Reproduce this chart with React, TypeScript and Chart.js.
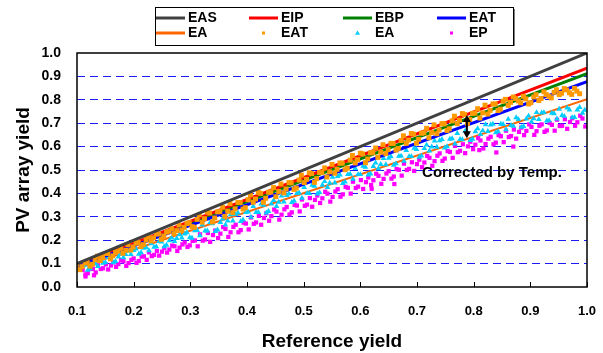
import { useEffect, useRef } from 'react';
import { Chart, registerables } from 'chart.js';

Chart.register(...registerables);

// ---- data ----
const lineX = [0.1, 1.0];
const easLine = [0.1, 1.0];
const eipLine = [0.094, 0.935];
const ebpLine = [0.091, 0.912];
const eatLine = [0.088, 0.878];
const eaLine = [0.08, 0.803];

const xTicks = [0.1, 0.2, 0.3, 0.4, 0.5, 0.6, 0.7, 0.8, 0.9, 1.0];
const yTicks = [0.0, 0.1, 0.2, 0.3, 0.4, 0.5, 0.6, 0.7, 0.8, 0.9, 1.0];

const eatMeasured: [number, number][] = [
  [0.100, 0.097], [0.109, 0.087], [0.118, 0.106], [0.127, 0.097], [0.136, 0.132], [0.145, 0.126],
  [0.154, 0.143], [0.163, 0.133], [0.172, 0.154], [0.181, 0.144], [0.190, 0.181], [0.199, 0.171],
  [0.208, 0.190], [0.217, 0.181], [0.226, 0.216], [0.235, 0.210], [0.244, 0.227], [0.253, 0.218],
  [0.262, 0.238], [0.271, 0.228], [0.280, 0.265], [0.289, 0.255], [0.298, 0.275], [0.307, 0.255],
  [0.316, 0.309], [0.325, 0.292], [0.334, 0.316], [0.343, 0.295], [0.352, 0.322], [0.361, 0.302],
  [0.370, 0.356], [0.379, 0.334], [0.388, 0.361], [0.397, 0.339], [0.406, 0.394], [0.415, 0.376],
  [0.424, 0.400], [0.433, 0.379], [0.442, 0.406], [0.451, 0.386], [0.460, 0.440], [0.469, 0.419],
  [0.478, 0.445], [0.487, 0.423], [0.496, 0.478], [0.505, 0.460], [0.514, 0.485], [0.523, 0.463],
  [0.532, 0.490], [0.541, 0.470], [0.550, 0.524], [0.559, 0.503], [0.568, 0.529], [0.577, 0.508],
  [0.586, 0.562], [0.595, 0.544], [0.604, 0.569], [0.613, 0.547], [0.622, 0.575], [0.631, 0.554],
  [0.640, 0.608], [0.649, 0.587], [0.658, 0.613], [0.667, 0.592], [0.676, 0.646], [0.685, 0.628],
  [0.694, 0.653], [0.703, 0.631], [0.712, 0.659], [0.721, 0.638], [0.730, 0.693], [0.739, 0.671],
  [0.748, 0.697], [0.757, 0.676], [0.766, 0.730], [0.775, 0.713], [0.784, 0.737], [0.793, 0.716],
  [0.802, 0.743], [0.811, 0.722], [0.820, 0.777], [0.829, 0.755], [0.838, 0.782], [0.847, 0.760],
  [0.856, 0.802], [0.865, 0.789], [0.874, 0.805], [0.883, 0.787], [0.892, 0.804], [0.901, 0.788],
  [0.910, 0.822], [0.919, 0.806], [0.928, 0.822], [0.937, 0.808], [0.946, 0.843], [0.955, 0.828],
  [0.964, 0.842], [0.973, 0.823], [0.982, 0.837],
  [0.105, 0.074], [0.114, 0.103], [0.123, 0.089], [0.132, 0.117], [0.141, 0.113], [0.150, 0.143],
  [0.159, 0.120], [0.168, 0.149], [0.177, 0.165], [0.186, 0.157], [0.195, 0.158], [0.204, 0.187],
  [0.213, 0.173], [0.222, 0.201], [0.231, 0.197], [0.240, 0.227], [0.249, 0.204], [0.258, 0.234],
  [0.267, 0.249], [0.276, 0.241], [0.285, 0.242], [0.294, 0.271], [0.303, 0.258], [0.312, 0.289],
  [0.321, 0.277], [0.330, 0.320], [0.339, 0.278], [0.348, 0.321], [0.357, 0.341], [0.366, 0.324],
  [0.375, 0.318], [0.384, 0.361], [0.393, 0.333], [0.402, 0.373], [0.411, 0.362], [0.420, 0.404],
  [0.429, 0.362], [0.438, 0.405], [0.447, 0.425], [0.456, 0.408], [0.465, 0.402], [0.474, 0.446],
  [0.483, 0.417], [0.492, 0.457], [0.501, 0.446], [0.510, 0.488], [0.519, 0.447], [0.528, 0.489],
  [0.537, 0.509], [0.546, 0.492], [0.555, 0.486], [0.564, 0.530], [0.573, 0.501], [0.582, 0.542],
  [0.591, 0.530], [0.600, 0.572], [0.609, 0.531], [0.618, 0.573], [0.627, 0.594], [0.636, 0.576],
  [0.645, 0.570], [0.654, 0.614], [0.663, 0.585], [0.672, 0.626], [0.681, 0.614], [0.690, 0.656],
  [0.699, 0.615], [0.708, 0.657], [0.717, 0.678], [0.726, 0.660], [0.735, 0.655], [0.744, 0.698],
  [0.753, 0.669], [0.762, 0.710], [0.771, 0.698], [0.780, 0.741], [0.789, 0.699], [0.798, 0.742],
  [0.807, 0.762], [0.816, 0.744], [0.825, 0.739], [0.834, 0.782], [0.843, 0.754], [0.852, 0.794],
  [0.861, 0.776], [0.870, 0.812], [0.879, 0.795], [0.888, 0.815], [0.897, 0.782], [0.906, 0.812],
  [0.915, 0.797], [0.924, 0.834], [0.933, 0.815], [0.942, 0.832], [0.951, 0.822], [0.960, 0.848],
  [0.969, 0.830], [0.978, 0.849], [0.987, 0.826],
];

const eaMeasured: [number, number][] = [
  [0.105, 0.073], [0.114, 0.094], [0.123, 0.079], [0.132, 0.101], [0.141, 0.118], [0.150, 0.105],
  [0.159, 0.124], [0.168, 0.110], [0.177, 0.141], [0.186, 0.139], [0.195, 0.140], [0.204, 0.163],
  [0.213, 0.147], [0.222, 0.169], [0.231, 0.186], [0.240, 0.173], [0.249, 0.193], [0.258, 0.179],
  [0.267, 0.210], [0.276, 0.208], [0.285, 0.210], [0.294, 0.233], [0.303, 0.209], [0.312, 0.242],
  [0.321, 0.266], [0.330, 0.240], [0.339, 0.271], [0.348, 0.244], [0.357, 0.291], [0.366, 0.283],
  [0.375, 0.283], [0.384, 0.317], [0.393, 0.287], [0.402, 0.321], [0.411, 0.345], [0.420, 0.319],
  [0.429, 0.350], [0.438, 0.323], [0.447, 0.370], [0.456, 0.363], [0.465, 0.364], [0.474, 0.398],
  [0.483, 0.368], [0.492, 0.402], [0.501, 0.426], [0.510, 0.400], [0.519, 0.431], [0.528, 0.404],
  [0.537, 0.451], [0.546, 0.444], [0.555, 0.445], [0.564, 0.479], [0.573, 0.449], [0.582, 0.483],
  [0.591, 0.507], [0.600, 0.481], [0.609, 0.512], [0.618, 0.484], [0.627, 0.531], [0.636, 0.524],
  [0.645, 0.523], [0.654, 0.557], [0.663, 0.527], [0.672, 0.560], [0.681, 0.584], [0.690, 0.558],
  [0.699, 0.588], [0.708, 0.560], [0.717, 0.607], [0.726, 0.599], [0.735, 0.598], [0.744, 0.631],
  [0.753, 0.600], [0.762, 0.634], [0.771, 0.657], [0.780, 0.630], [0.789, 0.660], [0.798, 0.632],
  [0.807, 0.677], [0.816, 0.668], [0.825, 0.665], [0.834, 0.696], [0.843, 0.664], [0.852, 0.695],
  [0.861, 0.717], [0.870, 0.688], [0.879, 0.716], [0.888, 0.687], [0.897, 0.731], [0.906, 0.720],
  [0.915, 0.716], [0.924, 0.746], [0.933, 0.711], [0.942, 0.741], [0.951, 0.760], [0.960, 0.730],
  [0.969, 0.757], [0.978, 0.725], [0.987, 0.768], [0.996, 0.756],
  [0.110, 0.090], [0.119, 0.072], [0.128, 0.098], [0.137, 0.088], [0.146, 0.102], [0.155, 0.127],
  [0.164, 0.104], [0.173, 0.129], [0.182, 0.126], [0.191, 0.155], [0.200, 0.157], [0.209, 0.141],
  [0.218, 0.166], [0.227, 0.156], [0.236, 0.170], [0.245, 0.195], [0.254, 0.173], [0.263, 0.198],
  [0.272, 0.195], [0.281, 0.224], [0.290, 0.227], [0.299, 0.211], [0.308, 0.241], [0.317, 0.220],
  [0.326, 0.240], [0.335, 0.276], [0.344, 0.238], [0.353, 0.276], [0.362, 0.266], [0.371, 0.309],
  [0.380, 0.311], [0.389, 0.281], [0.398, 0.319], [0.407, 0.299], [0.416, 0.319], [0.425, 0.355],
  [0.434, 0.317], [0.443, 0.355], [0.452, 0.345], [0.461, 0.389], [0.470, 0.392], [0.479, 0.362],
  [0.488, 0.400], [0.497, 0.380], [0.506, 0.400], [0.515, 0.436], [0.524, 0.398], [0.533, 0.436],
  [0.542, 0.426], [0.551, 0.470], [0.560, 0.473], [0.569, 0.443], [0.578, 0.481], [0.587, 0.461],
  [0.596, 0.481], [0.605, 0.517], [0.614, 0.479], [0.623, 0.516], [0.632, 0.506], [0.641, 0.550],
  [0.650, 0.551], [0.659, 0.521], [0.668, 0.559], [0.677, 0.538], [0.686, 0.558], [0.695, 0.594],
  [0.704, 0.555], [0.713, 0.592], [0.722, 0.582], [0.731, 0.625], [0.740, 0.626], [0.749, 0.595],
  [0.758, 0.632], [0.767, 0.612], [0.776, 0.631], [0.785, 0.666], [0.794, 0.627], [0.803, 0.664],
  [0.812, 0.652], [0.821, 0.694], [0.830, 0.693], [0.839, 0.660], [0.848, 0.696], [0.857, 0.673],
  [0.866, 0.691], [0.875, 0.724], [0.884, 0.683], [0.893, 0.719], [0.902, 0.706], [0.911, 0.746],
  [0.920, 0.744], [0.929, 0.710], [0.938, 0.743], [0.947, 0.719], [0.956, 0.734], [0.965, 0.766],
  [0.974, 0.724], [0.983, 0.757], [0.992, 0.743],
];

const epMeasured: [number, number][] = [
  [0.110, 0.073], [0.119, 0.059], [0.128, 0.077], [0.137, 0.093], [0.146, 0.080], [0.155, 0.075],
  [0.164, 0.105], [0.173, 0.098], [0.182, 0.110], [0.191, 0.102], [0.200, 0.122], [0.209, 0.111],
  [0.218, 0.131], [0.227, 0.148], [0.236, 0.137], [0.245, 0.134], [0.254, 0.166], [0.263, 0.160],
  [0.272, 0.174], [0.281, 0.168], [0.290, 0.190], [0.299, 0.178], [0.308, 0.199], [0.317, 0.225],
  [0.326, 0.203], [0.335, 0.193], [0.344, 0.241], [0.353, 0.228], [0.362, 0.248], [0.371, 0.234],
  [0.380, 0.266], [0.389, 0.243], [0.398, 0.271], [0.407, 0.297], [0.416, 0.276], [0.425, 0.266],
  [0.434, 0.315], [0.443, 0.303], [0.452, 0.322], [0.461, 0.309], [0.470, 0.342], [0.479, 0.319],
  [0.488, 0.348], [0.497, 0.374], [0.506, 0.352], [0.515, 0.343], [0.524, 0.391], [0.533, 0.379],
  [0.542, 0.399], [0.551, 0.385], [0.560, 0.418], [0.569, 0.396], [0.578, 0.424], [0.587, 0.450],
  [0.596, 0.429], [0.605, 0.419], [0.614, 0.468], [0.623, 0.456], [0.632, 0.475], [0.641, 0.462],
  [0.650, 0.495], [0.659, 0.472], [0.668, 0.501], [0.677, 0.527], [0.686, 0.505], [0.695, 0.496],
  [0.704, 0.544], [0.713, 0.532], [0.722, 0.552], [0.731, 0.538], [0.740, 0.571], [0.749, 0.549],
  [0.758, 0.577], [0.767, 0.603], [0.776, 0.582], [0.785, 0.572], [0.794, 0.621], [0.803, 0.608],
  [0.812, 0.626], [0.821, 0.611], [0.830, 0.642], [0.839, 0.617], [0.848, 0.644], [0.857, 0.668],
  [0.866, 0.645], [0.875, 0.634], [0.884, 0.681], [0.893, 0.667], [0.902, 0.684], [0.911, 0.666],
  [0.920, 0.695], [0.929, 0.669], [0.938, 0.693], [0.947, 0.715], [0.956, 0.689], [0.965, 0.676],
  [0.974, 0.721], [0.983, 0.704], [0.992, 0.720],
  [0.810, 0.585], [0.840, 0.575], [0.870, 0.600], [0.660, 0.440], [0.620, 0.420], [0.115, 0.045], [0.130, 0.050],
  [0.115, 0.054], [0.124, 0.078], [0.133, 0.062], [0.142, 0.077], [0.151, 0.097], [0.160, 0.092],
  [0.169, 0.086], [0.178, 0.115], [0.187, 0.090], [0.196, 0.116], [0.205, 0.103], [0.214, 0.130],
  [0.223, 0.116], [0.232, 0.132], [0.241, 0.154], [0.250, 0.151], [0.259, 0.147], [0.268, 0.177],
  [0.277, 0.154], [0.286, 0.182], [0.295, 0.171], [0.304, 0.197], [0.313, 0.174], [0.322, 0.198],
  [0.331, 0.231], [0.340, 0.222], [0.349, 0.209], [0.358, 0.256], [0.367, 0.214], [0.376, 0.257],
  [0.385, 0.234], [0.394, 0.275], [0.403, 0.246], [0.412, 0.270], [0.421, 0.304], [0.430, 0.295],
  [0.439, 0.283], [0.448, 0.331], [0.457, 0.288], [0.466, 0.332], [0.475, 0.310], [0.484, 0.351],
  [0.493, 0.323], [0.502, 0.347], [0.511, 0.380], [0.520, 0.372], [0.529, 0.359], [0.538, 0.407],
  [0.547, 0.365], [0.556, 0.408], [0.565, 0.386], [0.574, 0.428], [0.583, 0.399], [0.592, 0.423],
  [0.601, 0.457], [0.610, 0.448], [0.619, 0.436], [0.628, 0.484], [0.637, 0.441], [0.646, 0.485],
  [0.655, 0.463], [0.664, 0.504], [0.673, 0.476], [0.682, 0.500], [0.691, 0.533], [0.700, 0.525],
  [0.709, 0.512], [0.718, 0.560], [0.727, 0.518], [0.736, 0.561], [0.745, 0.539], [0.754, 0.581],
  [0.763, 0.552], [0.772, 0.576], [0.781, 0.610], [0.790, 0.601], [0.799, 0.589], [0.808, 0.636],
  [0.817, 0.592], [0.826, 0.634], [0.835, 0.610], [0.844, 0.649], [0.853, 0.619], [0.862, 0.641],
  [0.871, 0.673], [0.880, 0.663], [0.889, 0.649], [0.898, 0.695], [0.907, 0.650], [0.916, 0.689],
  [0.925, 0.663], [0.934, 0.701], [0.943, 0.668], [0.952, 0.688], [0.961, 0.717], [0.970, 0.705],
  [0.979, 0.689], [0.988, 0.732], [0.997, 0.686],
];

const legendLabels = ['EAS', 'EIP', 'EBP', 'EAT', 'EA', 'EAT', 'EA', 'EP'];

// annotation (data units)
const arrowX = 0.788;
const arrowTop = 0.735;
const arrowBottom = 0.636;
const noteX = 0.709;
const noteY = 0.487;
const noteText = 'Corrected by Temp.';

const FONT = "'Liberation Sans', Arial, Helvetica, sans-serif";

const toXY = (xs: number[], ys: number[]) => xs.map((x, i) => ({ x, y: ys[i] }));
const toPts = (arr: [number, number][]) => arr.map(([x, y]) => ({ x, y }));

const decorPlugin = {
  id: 'decor',
  afterDraw(chart: any) {
    const { ctx, chartArea: a, scales } = chart;
    const xs = scales.x;
    const ys = scales.y;
    ctx.save();
    // inner x tick marks
    ctx.strokeStyle = '#000';
    ctx.lineWidth = 1;
    xTicks.forEach((v) => {
      const px = Math.round(xs.getPixelForValue(v)) + 0.5;
      ctx.beginPath();
      ctx.moveTo(px, a.bottom);
      ctx.lineTo(px, a.bottom - 5);
      ctx.stroke();
    });
    // frame
    ctx.lineWidth = 1.5;
    ctx.strokeStyle = '#000';
    ctx.strokeRect(a.left, a.top, a.right - a.left, a.bottom - a.top);

    // double arrow
    const ax = xs.getPixelForValue(arrowX);
    const at = ys.getPixelForValue(arrowTop);
    const ab = ys.getPixelForValue(arrowBottom);
    ctx.fillStyle = '#000';
    ctx.lineWidth = 2;
    ctx.beginPath();
    ctx.moveTo(ax, at + 5);
    ctx.lineTo(ax, ab - 5);
    ctx.stroke();
    ctx.beginPath();
    ctx.moveTo(ax, at);
    ctx.lineTo(ax - 4, at + 7);
    ctx.lineTo(ax + 4, at + 7);
    ctx.closePath();
    ctx.fill();
    ctx.beginPath();
    ctx.moveTo(ax, ab);
    ctx.lineTo(ax - 4, ab - 7);
    ctx.lineTo(ax + 4, ab - 7);
    ctx.closePath();
    ctx.fill();

    // note text
    ctx.font = `bold 15px ${FONT}`;
    ctx.textAlign = 'left';
    ctx.textBaseline = 'middle';
    ctx.fillText(noteText, xs.getPixelForValue(noteX), ys.getPixelForValue(noteY));

    // legend
    const bx = 155, by = 7, bw = 358, bh = 38;
    ctx.fillStyle = '#fff';
    ctx.fillRect(bx, by, bw, bh);
    ctx.strokeStyle = '#808080';
    ctx.lineWidth = 2;
    ctx.beginPath();
    ctx.moveTo(bx + bw + 1, by + 2);
    ctx.lineTo(bx + bw + 1, by + bh + 1);
    ctx.stroke();
    ctx.strokeStyle = '#000';
    ctx.lineWidth = 1;
    ctx.strokeRect(bx + 0.5, by + 0.5, bw, bh);
    const cols = [156, 249, 343, 437];
    const rows = [18, 33];
    const datasets = chart.data.datasets;
    ctx.font = `bold 14px ${FONT}`;
    ctx.textBaseline = 'middle';
    legendLabels.forEach((label, i) => {
      const ds = datasets[i];
      const cx = cols[i % 4];
      const cy = rows[Math.floor(i / 4)];
      if (ds.showLine) {
        ctx.strokeStyle = ds.borderColor;
        ctx.lineWidth = 3;
        ctx.beginPath();
        ctx.moveTo(cx, cy);
        ctx.lineTo(cx + 29, cy);
        ctx.stroke();
      } else {
        ctx.fillStyle = ds.backgroundColor;
        const mx = cx + 14.5;
        if (ds.pointStyle === 'triangle') {
          ctx.beginPath();
          ctx.moveTo(mx, cy - 2.5);
          ctx.lineTo(mx - 2.5, cy + 1.8);
          ctx.lineTo(mx + 2.5, cy + 1.8);
          ctx.closePath();
          ctx.fill();
        } else {
          ctx.fillRect(mx - 1.5, cy - 1.5, 3, 3);
        }
      }
      ctx.fillStyle = '#000';
      ctx.fillText(label, cx + 32, cy + 0.5);
    });
    ctx.restore();
  },
};

export default function App() {
  const ref = useRef<HTMLCanvasElement>(null);
  useEffect(() => {
    document.body.style.margin = '0';
    const lineDs = (label: string, ys: number[], color: string, width: number, order: number) => ({
      label,
      data: toXY(lineX, ys),
      showLine: true,
      borderColor: color,
      backgroundColor: color,
      borderWidth: width,
      pointRadius: 0,
      order,
    });
    const chart = new Chart(ref.current as HTMLCanvasElement, {
      type: 'scatter',
      data: {
        datasets: [
          lineDs('EAS', easLine, '#404040', 3, 0),
          lineDs('EIP', eipLine, '#ff0000', 3, 6),
          lineDs('EBP', ebpLine, '#008000', 3, 6),
          lineDs('EAT', eatLine, '#0000ff', 3, 2),
          lineDs('EA', eaLine, '#ff6600', 2, 6),
          {
            label: 'EAT',
            data: toPts(eatMeasured),
            pointStyle: 'rect',
            pointRadius: 3.5,
            backgroundColor: '#ff9900',
            borderWidth: 0,
            order: 1,
          },
          {
            label: 'EA',
            data: toPts(eaMeasured),
            pointStyle: 'triangle',
            pointRadius: 3.3,
            backgroundColor: '#00ccff',
            borderWidth: 0,
            order: 3,
          },
          {
            label: 'EP',
            data: toPts(epMeasured),
            pointStyle: 'rect',
            pointRadius: 3,
            backgroundColor: '#ff00ff',
            borderWidth: 0,
            order: 4,
          },
        ] as any,
      },
      options: {
        animation: false,
        responsive: false,
        devicePixelRatio: 1,
        layout: { padding: { top: 53, right: 16, left: 0, bottom: 0 } },
        plugins: { legend: { display: false }, tooltip: { enabled: false } },
        scales: {
          x: {
            type: 'linear',
            min: xTicks[0],
            max: xTicks[xTicks.length - 1],
            afterBuildTicks: (s: any) => { s.ticks = xTicks.map((v) => ({ value: v })); },
            afterFit: (s: any) => { s.height = 66; s.paddingLeft = 0; s.paddingRight = 0; },
            grid: { display: false, drawTicks: false },
            border: { display: false },
            ticks: {
              color: '#000',
              padding: 17,
              font: { family: FONT, size: 13, weight: 'bold' },
              callback: (v: any) => Number(v).toFixed(1),
            },
            title: {
              display: true,
              text: 'Reference yield',
              color: '#000',
              font: { family: FONT, size: 19, weight: 'bold', lineHeight: 1.2 },
              padding: { top: 0, bottom: 0 },
            },
          },
          y: {
            type: 'linear',
            min: yTicks[0],
            max: yTicks[yTicks.length - 1],
            afterBuildTicks: (s: any) => { s.ticks = yTicks.map((v) => ({ value: v })); },
            afterFit: (s: any) => { s.width = 77; s.paddingTop = 0; s.paddingBottom = 0; },
            grid: {
              drawTicks: false,
              lineWidth: 1,
              color: (c: any) => (c.tick && c.tick.value > 0.001 && c.tick.value < 0.999 ? '#1a1aff' : 'rgba(0,0,0,0)'),
            },
            border: { display: false, dash: [8, 5] },
            ticks: {
              color: '#000',
              padding: 16,
              font: { family: FONT, size: 14, weight: 'bold' },
              callback: (v: any) => Number(v).toFixed(1),
            },
            title: {
              display: true,
              text: 'PV array yield',
              color: '#000',
              font: { family: FONT, size: 19, weight: 'bold', lineHeight: 1.2 },
              padding: { top: 12, bottom: 0 },
            },
          },
        },
      } as any,
      plugins: [decorPlugin],
    });
    return () => chart.destroy();
  }, []);
  return <canvas ref={ref} width={603} height={353} style={{ display: 'block' }} />;
}
